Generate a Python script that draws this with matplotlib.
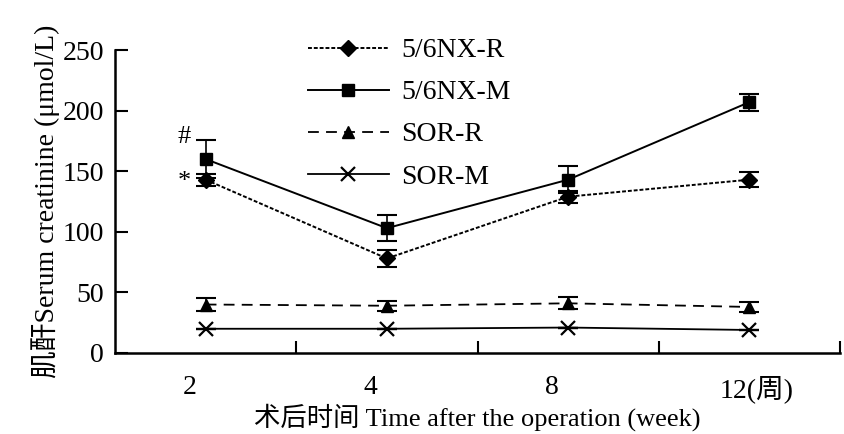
import matplotlib
matplotlib.use("Agg")
import matplotlib.pyplot as plt
from matplotlib.lines import Line2D
import numpy as np

weeks = ["2", "4", "8", "12(周)"]
nx_r = [143, 78, 129, 143]
nx_r_err = [5, 7, 5, 6]
nx_m = [160, 103, 143, 207]
nx_m_err = [16, 11, 11, 7]
sor_r = [40, 39, 41, 38]
sor_r_err = [5, 4, 5, 4]
sor_m = [20, 20, 21, 19]
sor_m_err = [0, 0, 0, 0]
series_names = ['5/6NX-R', '5/6NX-M', 'SOR-R', 'SOR-M']

plt.rcParams['font.family'] = ["Liberation Serif", "Noto Sans CJK SC", "DejaVu Sans"]

fig = plt.figure(figsize=(8.45, 4.34), dpi=100)
ax = fig.add_axes([115/845, 1 - 353/434, 725/845, 303/434])

x = np.arange(len(weeks))
styles = [
    dict(linestyle=(0, (2, 1)), lw=1.4, marker='D', ms=8),
    dict(linestyle='-', lw=1.4, marker='s', ms=8),
    dict(linestyle=(0, (6, 4)), lw=1.3, marker='^', ms=9),
    dict(linestyle='-', lw=1.3, marker='x', ms=10, mew=1.6),
]
data = [(nx_r, nx_r_err), (nx_m, nx_m_err), (sor_r, sor_r_err), (sor_m, sor_m_err)]
handles = []
for (vals, errs), st, name in zip(data, styles, series_names):
    ax.errorbar(x, vals, yerr=errs, color='black', ecolor='black', elinewidth=1.2,
                capsize=7, capthick=1.5, **st)
    handles.append(Line2D([], [], color='black', **st))

ax.set_xlim(-0.5, 3.5)
ax.set_ylim(0, 250)
ax.spines['top'].set_visible(False)
ax.spines['right'].set_visible(False)
ax.spines['left'].set_linewidth(1.8)
ax.spines['bottom'].set_linewidth(1.8)

ax.set_xticks([0.5, 1.5, 2.5, 3.5])
ax.set_xticklabels([])
ax.set_xticks([-0.09, 0.91, 1.91, 3.04], minor=True)
ax.set_xticklabels(weeks, minor=True, fontsize=20)
ax.tick_params(axis='x', which='major', direction='in', length=9, width=1.5)
ax.tick_params(axis='x', which='minor', length=0, pad=16)
ax.set_yticks([0, 50, 100, 150, 200, 250])
ax.tick_params(axis='y', direction='in', length=9, width=1.5, labelsize=20, pad=8)

ax.set_xlabel("术后时间 Time after the operation (week)", fontsize=19, labelpad=0)
ax.set_ylabel("肌酐Serum creatinine (μmol/L)", fontsize=20, labelpad=2)

ax.text(-0.12, 178, '#', fontsize=19, ha='center', va='center')
ax.text(-0.12, 141, '*', fontsize=19, ha='center', va='center')

ax.legend(handles, series_names, loc='upper left', bbox_to_anchor=(0.247, 1.086),
          frameon=False, borderpad=0, fontsize=20, handlelength=2.9,
          labelspacing=0.6, handletextpad=0.45)

fig.savefig("out.png", dpi=100)
